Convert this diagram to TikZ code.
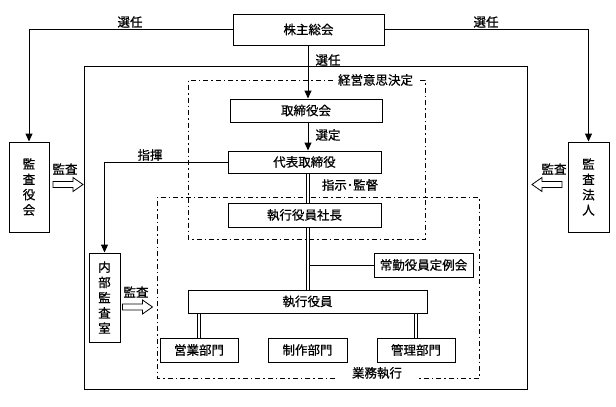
\documentclass[tikz,border=0pt]{standalone}
\usepackage{fontspec}
\setmainfont{Noto Sans CJK JP}[FakeBold=0.7]
\usetikzlibrary{arrows.meta}
\tikzset{
  box/.style={draw, line width=1pt, fill=white, inner sep=0pt, font=\fontsize{12.5}{15.3}\selectfont, align=center},
  lbl/.style={inner sep=0pt, font=\fontsize{12.5}{15}\selectfont},
  arr/.style={line width=1pt, -{Triangle[length=8pt,width=7pt]}},
  conn/.style={line width=1pt},
  dbl/.style={double, line width=0.8pt, double distance=2.2pt},
  dashdot/.style={line width=1pt, dash pattern=on 5pt off 3pt on 1.5pt off 3pt},
  harrow/.pic={\draw[line width=0.8pt, fill=white] (-15,-3) -- (5,-3) -- (5,-7) -- (15,0) -- (5,7) -- (5,3) -- (-15,3) -- cycle;}
}
\begin{document}
\begin{tikzpicture}[x=1pt,y=-1pt]
\useasboundingbox (0,0) rectangle (616,407);
% outer frame and dash-dot areas
\draw[line width=1pt] (84,66) rectangle (527,389);
\draw[dashdot] (333,80) -- (188,80) -- (188,239) -- (425,239) -- (425,80) -- (418,80);
\draw[dashdot] (335,378) -- (157,378) -- (157,197) -- (479,197) -- (479,378) -- (418,378);
\node[lbl] (lblkeiei) at (375.5,80) {経営意思決定};
\node[lbl] (lblgyomu) at (377,373) {業務執行};
\coordinate (spine) at (308,0);
% nodes
\node[box, minimum width=151pt, minimum height=31pt] (gm) at (308.5,29.5) {株主総会};
\node[box, minimum width=152pt, minimum height=23pt] (bod) at (306,110.5) {取締役会};
\node[box, minimum width=153pt, minimum height=22pt] (rep) at (304.5,162) {代表取締役};
\node[box, minimum width=153pt, minimum height=24pt] (pres) at (304.5,215) {執行役員社長};
\node[box, minimum width=99pt, minimum height=24pt] (jokin) at (423.5,265) {常勤役員定例会};
\node[box, minimum width=239pt, minimum height=23pt] (exec) at (307.5,301.5) {執行役員};
\node[box, minimum width=78pt, minimum height=24pt] (sales) at (199,350) {営業部門};
\node[box, minimum width=79pt, minimum height=24pt] (prod) at (307.5,350) {制作部門};
\node[box, minimum width=78pt, minimum height=24pt] (mgmt) at (416,350) {管理部門};
\node[box, minimum width=40pt, minimum height=90pt] (kansayaku) at (29,187) {監\\査\\役\\会};
\node[box, minimum width=41pt, minimum height=90pt] (firm) at (588.5,187) {監\\査\\法\\人};
\node[box, minimum width=31pt, minimum height=89pt] (internal) at (104.5,297.5) {内\\部\\監\\査\\室};
% connectors
\draw[arr] (gm.west) -| (kansayaku.north);
\draw[arr] (gm.east) -| (firm.north);
\node[lbl] (l1) at (130,22) {選任};
\node[lbl] (l2) at (486,22) {選任};
\draw[arr] (gm.south -| spine) -- (bod.north -| spine);
\node[lbl] (l3) at (328,60) {選任};
\draw[arr] (bod.south -| spine) -- (rep.north -| spine);
\node[lbl] (l4) at (328,135) {選定};
\draw[dbl] (rep.south -| spine) -- (pres.north -| spine);
\node[lbl] (l5) at (350,185) {指示･監督};
\draw[dbl] (pres.south -| spine) -- (exec.north -| spine);
\draw[conn] (jokin.west -| spine) ++(2pt,0) -- (jokin.west);
\draw[dbl] (exec.south -| sales) -- (sales.north);
\draw[dbl] (exec.south -| prod) -- (prod.north);
\draw[dbl] (exec.south -| mgmt) -- (mgmt.north);
\draw[arr] (rep.west) -| (internal.north);
\node[lbl] (l6) at (150,155) {指揮};
% audit arrows
\pic at (68,184.5) {harrow};
\node[lbl] (l7) at (65,169) {監査};
\pic[xscale=-1] at (547,184.5) {harrow};
\node[lbl] (l8) at (554,169) {監査};
\pic at (137.5,307) {harrow};
\node[lbl] (l9) at (136,292) {監査};
\end{tikzpicture}
\end{document}
